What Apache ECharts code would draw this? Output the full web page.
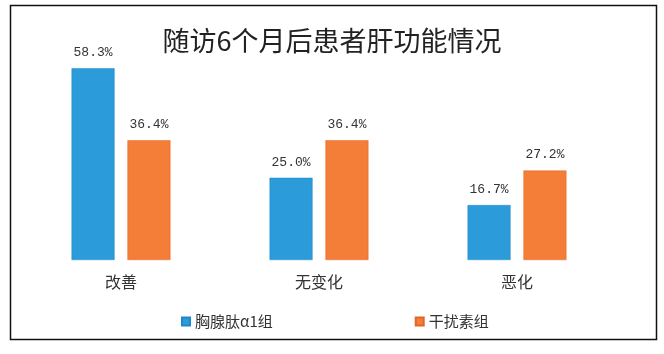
<!DOCTYPE html>
<html>
<head>
<meta charset="utf-8">
<script src="https://cdn.jsdelivr.net/npm/echarts@6/dist/echarts.min.js"></script>
<style>
  html, body { margin: 0; padding: 0; background: #fff; }
  #chart { width: 664px; height: 354px; }
</style>
</head>
<body>
<div id="chart"></div>
<script>
const categories = ['改善', '无变化', '恶化']
const thymosinGroup = [58.3, 25.0, 16.7]
const interferonGroup = [36.4, 36.4, 27.2]
const seriesNames = ['胸腺肽α1组', '干扰素组']

const cjk = '"Noto Sans CJK SC", sans-serif'

const labelStyle = {
  show: true,
  position: 'top',
  distance: 9,
  fontFamily: '"Liberation Mono", monospace',
  fontSize: 13,
  color: '#333',
  formatter: p => p.value.toFixed(1) + '%',
}

const chart = echarts.init(document.getElementById('chart'))
chart.setOption({
  backgroundColor: '#fff',
  animation: false,
  title: {
    text: '随访6个月后患者肝功能情况',
    left: 'center',
    top: 22,
    textStyle: { fontFamily: cjk, fontSize: 27, fontWeight: 'normal', color: '#222' },
  },
  graphic: [{
    type: 'rect',
    shape: { x: 10.5, y: 5.5, width: 646, height: 334 },
    style: { fill: 'none', stroke: '#111', lineWidth: 1.5 },
    silent: true,
  }],
  legend: {
    data: seriesNames,
    left: 176,
    top: 309,
    icon: 'rect',
    itemWidth: 8,
    itemHeight: 8,
    itemGap: 142,
    textStyle: { fontFamily: cjk, fontSize: 15, color: '#333' },
  },
  grid: { left: 22, right: 48, top: 62.6, bottom: 94 },
  xAxis: {
    type: 'category',
    data: categories,
    axisLine: { show: false },
    axisTick: { show: false },
    axisLabel: { margin: 14, fontFamily: cjk, fontSize: 16, color: '#333' },
  },
  yAxis: {
    type: 'value',
    min: 0,
    max: 60,
    show: false,
    splitLine: { show: false },
  },
  series: [
    {
      name: seriesNames[0],
      type: 'bar',
      data: thymosinGroup,
      barWidth: 43,
      barGap: '30%',
      itemStyle: { color: '#2C9BDA', borderColor: '#1E88C8', borderWidth: 0.5 },
      label: labelStyle,
    },
    {
      name: seriesNames[1],
      type: 'bar',
      data: interferonGroup,
      barWidth: 43,
      itemStyle: { color: '#F47D37', borderColor: '#E0662A', borderWidth: 0.5 },
      label: labelStyle,
    },
  ],
})
</script>
</body>
</html>
